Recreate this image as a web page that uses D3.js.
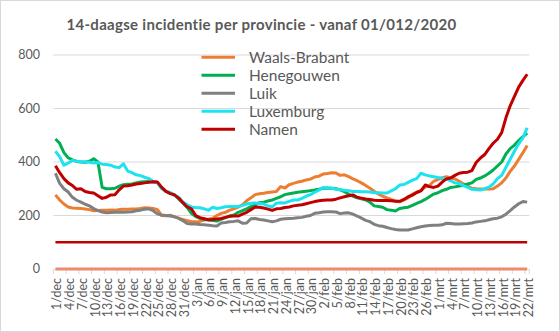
<!DOCTYPE html>
<html><head><meta charset="utf-8">
<script src="https://cdn.jsdelivr.net/npm/d3@7"></script>
<style>
html,body{margin:0;padding:0;background:#fff;}
svg{display:block;font-family:Lato,"Open Sans",sans-serif;}
</style></head>
<body><div id="chart"></div>
<script>
const title = "14-daagse incidentie per provincie - vanaf 01/012/2020";
const categories = [
"1/dec","2/dec","3/dec","4/dec","5/dec","6/dec","7/dec","8/dec","9/dec","10/dec","11/dec","12/dec","13/dec","14/dec","15/dec","16/dec","17/dec","18/dec","19/dec","20/dec","21/dec","22/dec","23/dec","24/dec","25/dec","26/dec","27/dec","28/dec","29/dec","30/dec","31/dec",
"1/jan","2/jan","3/jan","4/jan","5/jan","6/jan","7/jan","8/jan","9/jan","10/jan","11/jan","12/jan","13/jan","14/jan","15/jan","16/jan","17/jan","18/jan","19/jan","20/jan","21/jan","22/jan","23/jan","24/jan","25/jan","26/jan","27/jan","28/jan","29/jan","30/jan","31/jan",
"1/feb","2/feb","3/feb","4/feb","5/feb","6/feb","7/feb","8/feb","9/feb","10/feb","11/feb","12/feb","13/feb","14/feb","15/feb","16/feb","17/feb","18/feb","19/feb","20/feb","21/feb","22/feb","23/feb","24/feb","25/feb","26/feb","27/feb","28/feb",
"1/mrt","2/mrt","3/mrt","4/mrt","5/mrt","6/mrt","7/mrt","8/mrt","9/mrt","10/mrt","11/mrt","12/mrt","13/mrt","14/mrt","15/mrt","16/mrt","17/mrt","18/mrt","19/mrt","20/mrt","21/mrt","22/mrt"];
const tickLabels = ["1/dec","4/dec","7/dec","10/dec","13/dec","16/dec","19/dec","22/dec","25/dec","28/dec","31/dec","3/jan","6/jan","9/jan","12/jan","15/jan","18/jan","21/jan","24/jan","27/jan","30/jan","2/feb","5/feb","8/feb","11/feb","14/feb","17/feb","20/feb","23/feb","26/feb","1/mrt","4/mrt","7/mrt","10/mrt","13/mrt","16/mrt","19/mrt","22/mrt"];
const yTicks = [0,200,400,600,800];
const seriesNames = ["Waals-Brabant","Henegouwen","Luik","Luxemburg","Namen"];
const waalsBrabant = [277,258,243,232,228,227,226,224,222,218,219,220,220,221,220,222,223,223,224,224,226,229,228,226,222,200,199,201,196,189,185,181,177,177,178,183,186,190,200,208,212,220,225,231,240,255,266,278,281,283,286,288,290,308,303,315,320,325,328,333,336,344,347,355,357,360,359,350,352,345,337,330,322,312,302,291,280,272,266,260,254,251,258,266,280,287,293,306,312,328,335,340,345,340,337,328,318,310,302,300,299,299,299,300,310,322,340,365,385,410,435,462];
const henegouwen = [486,470,435,416,408,402,400,399,403,412,400,305,300,300,302,310,315,317,318,322,325,326,327,326,323,305,290,285,277,262,247,230,208,196,189,186,183,181,179,186,192,198,202,212,218,225,233,240,248,250,254,258,264,270,278,281,284,287,289,291,293,295,298,302,302,302,300,296,289,280,272,266,262,258,250,236,234,231,222,220,217,226,229,231,238,245,252,260,270,280,285,293,298,305,307,310,313,318,322,335,340,348,358,370,385,400,430,450,463,480,495,508];
const luik = [358,320,300,288,268,257,250,242,236,226,218,213,210,211,212,212,212,213,214,218,220,223,225,218,206,202,200,198,195,190,180,170,168,168,166,165,164,162,161,172,174,177,178,180,171,172,188,189,185,183,180,177,180,186,188,189,190,192,193,197,200,208,210,213,214,214,213,207,209,210,205,198,190,182,177,167,162,160,155,151,148,146,146,146,150,154,158,161,163,164,164,165,171,170,168,168,169,170,172,176,178,180,184,188,190,195,205,218,232,244,252,250];
const luxemburg = [440,420,388,396,406,403,401,401,399,396,398,392,391,388,381,379,393,366,360,352,349,343,338,327,322,300,290,285,276,268,250,240,232,230,229,225,220,231,226,229,233,234,234,234,238,243,246,247,245,243,236,232,246,248,247,253,258,258,264,272,278,287,295,305,304,302,298,296,294,293,290,290,289,289,288,285,285,284,284,292,300,314,316,324,332,338,358,352,348,345,342,340,336,330,322,320,312,305,298,296,295,300,306,318,338,350,380,410,440,468,490,528];
const namen = [386,360,338,322,312,298,300,290,286,284,274,264,268,277,278,296,310,311,314,318,320,322,324,326,325,305,290,282,277,265,248,232,225,200,192,188,184,185,187,189,193,197,198,198,205,212,222,232,231,228,224,219,225,226,230,232,236,238,240,244,248,252,255,257,258,258,261,266,270,274,277,268,265,262,260,257,256,256,256,255,253,253,260,270,276,286,292,314,308,305,310,325,337,340,350,358,361,362,368,398,415,428,450,470,485,510,565,610,645,680,705,728];
const thresholdHigh = 100;
const thresholdLow = 0;
const colors = ["#ED7D31","#00B050","#808080","#1DE3F0","#C00000"];

const W = 560, H = 332;
const svg = d3.select("#chart").append("svg").attr("width", W).attr("height", H);
svg.append("rect").attr("x",0.5).attr("y",0.5).attr("width",W-1).attr("height",H-1)
  .attr("fill","#fff").attr("stroke","#D9D9D9");

const x = d3.scaleBand().domain(categories).range([53.3, 529.3]).padding(0);
const bw = x.bandwidth();
const cx = d => x(d) + bw/2;
const y = d3.scaleLinear().domain([0, 800]).range([269, 55]);

// gridlines
svg.append("g").selectAll("line").data(yTicks.filter(d => d > 0)).join("line")
  .attr("x1", 53.3).attr("x2", 529.3).attr("y1", d => y(d)).attr("y2", d => y(d))
  .attr("stroke", "#D9D9D9").attr("stroke-width", 1);

// y labels
svg.append("g").selectAll("text").data(yTicks).join("text")
  .attr("x", 40).attr("y", d => y(d)).attr("dy", "0.35em").attr("text-anchor", "end")
  .attr("font-size", 12.5).attr("fill", "#595959").text(d => d);

// x axis line and ticks
svg.append("line").attr("x1", 53.3).attr("x2", 529.3).attr("y1", y(0)+0.5).attr("y2", y(0)+0.5)
  .attr("stroke", "#D9D9D9");
const tickPos = tickLabels.map(l => x(l)).concat([529.3]);
svg.append("g").selectAll("line").data(tickPos).join("line")
  .attr("x1", d => d).attr("x2", d => d).attr("y1", y(0)).attr("y2", y(0)+5)
  .attr("stroke", "#D9D9D9");
svg.append("g").selectAll("text").data(tickLabels).join("text")
  .attr("transform", d => `translate(${cx(d)+1.5},${y(0)+9}) rotate(-90)`)
  .attr("text-anchor", "end").attr("dy", "0.35em")
  .attr("font-size", 12.5).attr("fill", "#595959").text(d => d);

const line = d3.line().x((d, i) => cx(categories[i])).y(d => y(d));

// reference lines
svg.append("path").datum(categories.map(() => thresholdLow))
  .attr("d", line).attr("fill", "none").attr("stroke", "#F08A6E").attr("stroke-width", 3);
svg.append("path").datum(categories.map(() => thresholdHigh))
  .attr("d", line).attr("fill", "none").attr("stroke", "#C00000").attr("stroke-width", 2.5);

const allSeries = [waalsBrabant, henegouwen, luik, luxemburg, namen];
svg.append("g").selectAll("path").data(allSeries).join("path")
  .attr("d", line).attr("fill", "none")
  .attr("stroke", (d, i) => colors[i]).attr("stroke-width", 3)
  .attr("stroke-linejoin", "round");

// legend
const lg = svg.append("g");
seriesNames.forEach((n, i) => {
  const ly = 57.3 + i * 18;
  lg.append("line").attr("x1", 201.5).attr("x2", 235).attr("y1", ly).attr("y2", ly)
    .attr("stroke", colors[i]).attr("stroke-width", 3);
  lg.append("text").attr("x", 249).attr("y", ly + 5.5).attr("font-size", 15.5)
    .attr("fill", "#595959").text(n);
});

// title
svg.append("text").attr("x", 261.5).attr("y", 29.5).attr("text-anchor", "middle")
  .attr("font-size", 15).attr("letter-spacing", 0.3).attr("font-weight", "bold").attr("fill", "#595959").text(title);
</script>
</body></html>
